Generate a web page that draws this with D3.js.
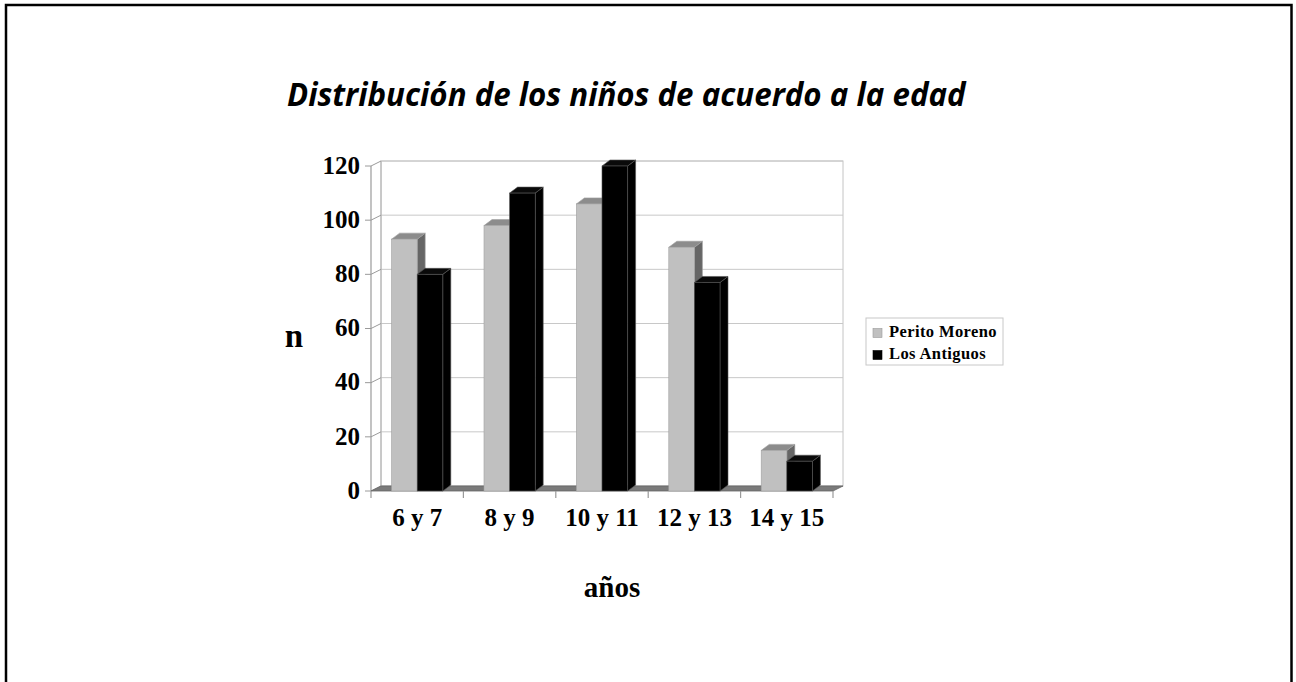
<!DOCTYPE html>
<html><head><meta charset="utf-8">
<script src="https://cdn.jsdelivr.net/npm/d3@7/dist/d3.min.js"></script>
<style>html,body{margin:0;padding:0;background:#fff;}svg{display:block;}</style>
</head><body>
<svg id="c" width="1296" height="682"></svg>
<script>
const categories = ["6 y 7", "8 y 9", "10 y 11", "12 y 13", "14 y 15"];
const seriesNames = ["Perito Moreno", "Los Antiguos"];
const peritoMoreno = [93, 98, 106, 90, 15];
const losAntiguos = [80, 110, 120, 77, 11];
const yTicks = [0, 20, 40, 60, 80, 100, 120];
const titleText = "Distribución de los niños de acuerdo a la edad";
const xTitle = "años";
const yTitle = "n";

const svg = d3.select("#c");
const serif = "'Liberation Serif','Times New Roman',serif";
const colors = [{front:"#c0c0c0", top:"#8c8c8c", side:"#666666", stroke:"#a0a0a0"},
                {front:"#000000", top:"#0a0a0a", side:"#000000", stroke:"#555555"}];

// frame
svg.append("rect").attr("x",6).attr("y",5).attr("width",1285.5).attr("height",700)
  .attr("fill","none").attr("stroke","#000").attr("stroke-width",2.5);

// geometry
const x0 = 371, x1 = 833, base = 491, topY = 166;
const wallDx = 10, wallDy = 5;
const barDx = 8, barDy = 6;
const x = d3.scaleBand().domain(categories).range([x0, x1]).paddingInner(0).paddingOuter(0);
const y = d3.scaleLinear().domain([0, 120]).range([base, topY]);
const bw = 25.6;

// back wall
const g = svg.append("g");
g.append("rect").attr("x", x0 + wallDx).attr("y", y(120) - wallDy)
  .attr("width", x1 - x0).attr("height", base - y(120))
  .attr("fill","#fff").attr("stroke","#c4c4c4").attr("stroke-width",1);
// gridlines on back wall
g.selectAll(".grid").data(yTicks).join("line")
  .attr("x1", x0 + wallDx).attr("x2", x1 + wallDx)
  .attr("y1", d => y(d) - wallDy).attr("y2", d => y(d) - wallDy)
  .attr("stroke","#c8c8c8").attr("stroke-width",1);
// side wall
g.append("line").attr("x1", x0).attr("x2", x0).attr("y1", y(120)).attr("y2", base)
  .attr("stroke","#9a9a9a").attr("stroke-width",1.2);
g.append("line").attr("x1", x0+wallDx).attr("x2", x0+wallDx).attr("y1", y(120)-wallDy).attr("y2", base-wallDy)
  .attr("stroke","#b0b0b0").attr("stroke-width",1);
// ticks + side-wall diagonals
g.selectAll(".ytk").data(yTicks).join("path")
  .attr("d", d => `M${x0-6},${y(d)}L${x0},${y(d)}L${x0+wallDx},${y(d)-wallDy}`)
  .attr("fill","none").attr("stroke","#9a9a9a").attr("stroke-width",1);
// y tick labels
g.selectAll(".ylab").data(yTicks).join("text")
  .attr("x", 360).attr("y", d => y(d) + 2)
  .attr("text-anchor","end").attr("dominant-baseline","middle")
  .attr("font-family", serif).attr("font-weight","bold").attr("font-size",25)
  .text(d => d);

// floor
g.append("path")
  .attr("d", `M${x0},${base}L${x1},${base}L${x1+wallDx},${base-wallDy}L${x0+wallDx},${base-wallDy}Z`)
  .attr("fill","#7a7a7a").attr("stroke","#666").attr("stroke-width",0.8);

// category ticks
const catEdges = categories.map(c => x(c)).concat([x1]);
g.selectAll(".xtk").data(catEdges).join("line")
  .attr("x1", d => d).attr("x2", d => d).attr("y1", base).attr("y2", base + 7)
  .attr("stroke","#9a9a9a").attr("stroke-width",1.2);

// bars
const series = [peritoMoreno, losAntiguos];
const bars = [];
categories.forEach((c, i) => {
  series.forEach((s, k) => {
    const bx = x(c) + (x.bandwidth() - 2*bw)/2 + k*bw;
    bars.push({bx, v: s[i], k});
  });
});
bars.forEach(b => {
  const yt = y(b.v), col = colors[b.k];
  const bg = g.append("g");
  bg.append("path")
    .attr("d", `M${b.bx+bw},${yt}L${b.bx+bw+barDx},${yt-barDy}L${b.bx+bw+barDx},${base-barDy}L${b.bx+bw},${base}Z`)
    .attr("fill", col.side).attr("stroke", col.stroke).attr("stroke-width",0.6);
  bg.append("path")
    .attr("d", `M${b.bx},${yt}L${b.bx+barDx},${yt-barDy}L${b.bx+bw+barDx},${yt-barDy}L${b.bx+bw},${yt}Z`)
    .attr("fill", col.top).attr("stroke", col.stroke).attr("stroke-width",0.6);
  bg.append("rect").attr("x", b.bx).attr("y", yt).attr("width", bw).attr("height", base - yt)
    .attr("fill", col.front).attr("stroke", col.stroke).attr("stroke-width",0.6);
});

// category labels
g.selectAll(".xlab").data(categories).join("text")
  .attr("x", d => x(d) + x.bandwidth()/2).attr("y", 526)
  .attr("text-anchor","middle")
  .attr("font-family", serif).attr("font-weight","bold").attr("font-size",25)
  .text(d => d);

// axis titles
svg.append("text").attr("x", 294).attr("y", 347).attr("text-anchor","middle")
  .attr("font-family", serif).attr("font-weight","bold").attr("font-size",33).text(yTitle);
svg.append("text").attr("x", 612).attr("y", 597).attr("text-anchor","middle")
  .attr("font-family", serif).attr("font-weight","bold").attr("font-size",29).text(xTitle);

// title
const t = svg.append("text").attr("x", 287).attr("y", 106)
  .attr("font-family","'Open Sans','Noto Sans',sans-serif").attr("font-style","italic")
  .attr("font-weight","bold").attr("font-size",29).text(titleText);
const tw = t.node().getComputedTextLength();
t.attr("font-size", 29 * 679 / tw);

// legend
const lg = svg.append("g");
lg.append("rect").attr("x",866).attr("y",318).attr("width",137).attr("height",47)
  .attr("fill","#fff").attr("stroke","#c8c8c8").attr("stroke-width",1);
const legY = [333, 355];
seriesNames.forEach((n, k) => {
  lg.append("rect").attr("x",873).attr("y",legY[k]-4.5).attr("width",9).attr("height",9)
    .attr("fill", colors[k].front).attr("stroke", k ? "#000" : "#999").attr("stroke-width",0.6);
  lg.append("text").attr("x",889).attr("y",legY[k]).attr("dominant-baseline","middle")
    .attr("font-family", serif).attr("font-weight","bold").attr("font-size",16.5)
    .attr("letter-spacing",0.4).text(n);
});
</script>
</body></html>
